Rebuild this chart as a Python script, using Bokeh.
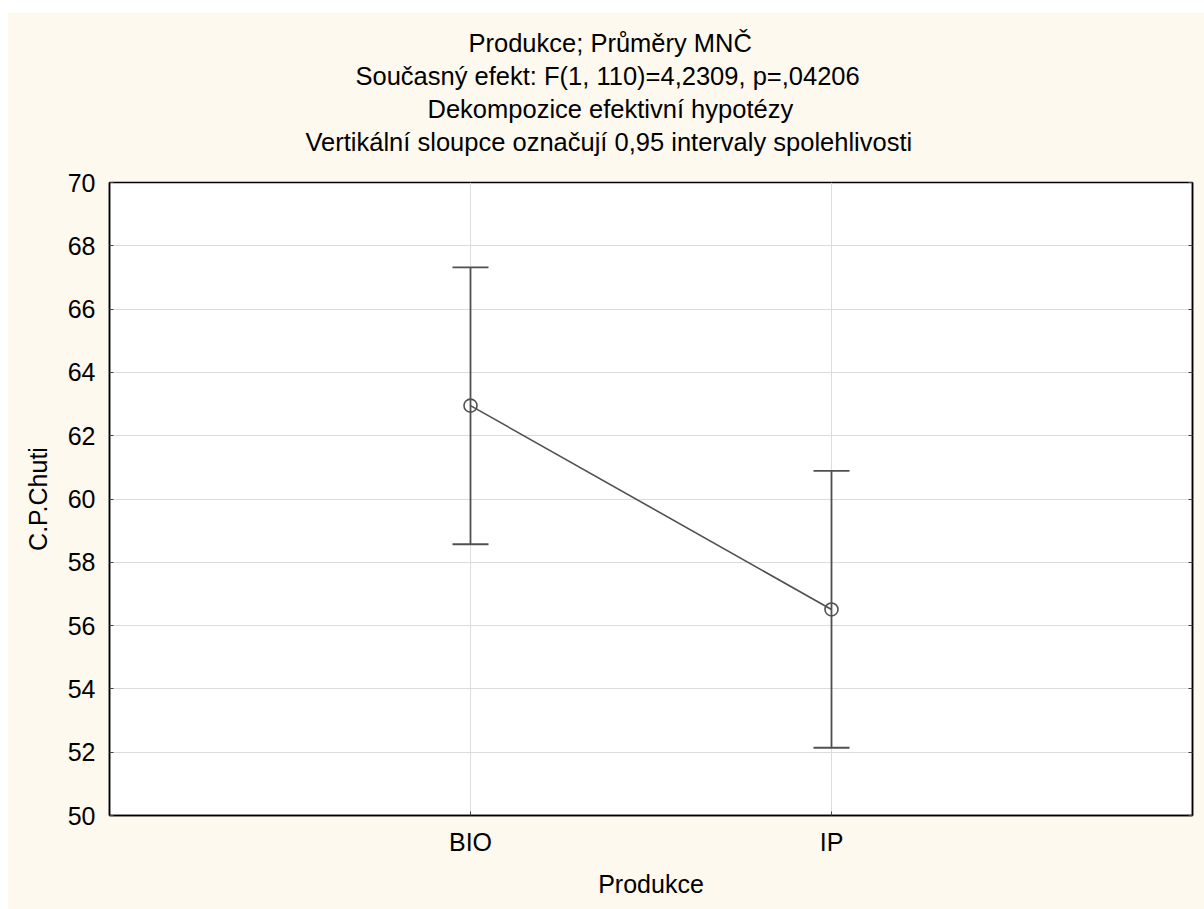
from bokeh.plotting import figure
from bokeh.models import (ColumnDataSource, FactorRange, Range1d, Whisker, TeeHead,
                          LinearAxis, FixedTicker, Title, Spacer)
from bokeh.layouts import column, row
from bokeh.embed import file_html
from bokeh.resources import INLINE

categories = ["BIO", "IP"]
means = [62.95, 56.51]
lower = [58.57, 52.14]
upper = [67.32, 60.89]
y_ticks = [50, 52, 54, 56, 58, 60, 62, 64, 66, 68, 70]
title_lines = [
    "Produkce; Průměry MNČ",
    "Současný efekt: F(1, 110)=4,2309, p=,04206",
    "Dekompozice efektivní hypotézy",
    "Vertikální sloupce označují 0,95 intervaly spolehlivosti",
]
# horizontal start of each title line, measured from the left edge of the frame
title_offsets = [359, 246, 318, 196]
x_label = "Produkce"
y_label = "C.P.Chuti"

FONT = "Liberation Sans"
FS = "25px"
TFS = "25.5px"
BG = "#FEF9EF"
LINE = "#505050"

src = ColumnDataSource(dict(cat=categories, mean=means, lower=lower, upper=upper))

p = figure(width=1197, height=897, output_backend="svg", toolbar_location=None,
           x_range=FactorRange(*categories, range_padding=0.5, range_padding_units="absolute"),
           y_range=Range1d(50, 70),
           min_border_left=102, min_border_right=12, min_border_top=170, min_border_bottom=94)
p.background_fill_color = "white"
p.border_fill_color = BG
p.outline_line_color = "black"
p.outline_line_width = 1.5

# blank spacer between the title block and the frame (closest to the frame)
p.add_layout(Title(text=" ", text_color=BG, text_font_size="12px", standoff=8.5), "above")
# title lines: the first added is the closest to the plot
for t, off in reversed(list(zip(title_lines, title_offsets))):
    p.add_layout(Title(text=t, align="left", offset=off, text_font=FONT, text_font_size=TFS,
                       text_font_style="normal", text_color="black", standoff=3.3), "above")

p.xgrid.grid_line_color = "#dcdcdc"
p.ygrid.grid_line_color = "#dcdcdc"
p.ygrid.ticker = FixedTicker(ticks=y_ticks)

for ax in (p.xaxis[0], p.yaxis[0]):
    ax.axis_line_color = "black"
    ax.axis_line_width = 1.5
    ax.major_tick_in = 4
    ax.major_tick_out = 0
    ax.minor_tick_line_color = None
    ax.major_tick_line_color = "#444444"
    ax.major_label_text_font = FONT
    ax.major_label_text_font_size = FS
    ax.major_label_text_color = "black"
    ax.axis_label_text_font = FONT
    ax.axis_label_text_font_size = FS
    ax.axis_label_text_font_style = "normal"
    ax.axis_label_text_color = "black"

p.yaxis[0].ticker = FixedTicker(ticks=y_ticks)
p.yaxis[0].axis_label = y_label
p.yaxis[0].major_label_standoff = 14
p.yaxis[0].axis_label_standoff = 13
p.xaxis[0].axis_label = x_label
p.xaxis[0].major_label_standoff = 12
p.xaxis[0].axis_label_standoff = 11

right = LinearAxis(ticker=FixedTicker(ticks=y_ticks), major_label_text_color=None,
                   major_label_text_font_size="0px",
                   major_tick_in=4, major_tick_out=0, minor_tick_line_color=None,
                   axis_line_color="black", axis_line_width=1.5,
                   major_tick_line_color="#444444", major_label_standoff=0)
p.add_layout(right, "right")

wh = Whisker(source=src, base="cat", upper="upper", lower="lower", dimension="height",
             line_color=LINE, line_width=1.8,
             upper_head=TeeHead(size=36, line_color=LINE, line_width=1.8),
             lower_head=TeeHead(size=36, line_color=LINE, line_width=1.8))
p.add_layout(wh)

p.line("cat", "mean", source=src, line_color=LINE, line_width=1.6)
p.scatter("cat", "mean", source=src, marker="circle", size=13, fill_alpha=0,
          line_color=LINE, line_width=1.6)

layout = column(Spacer(height=12), row(Spacer(width=7), p))
open("out.html", "w").write(file_html(layout, INLINE))
